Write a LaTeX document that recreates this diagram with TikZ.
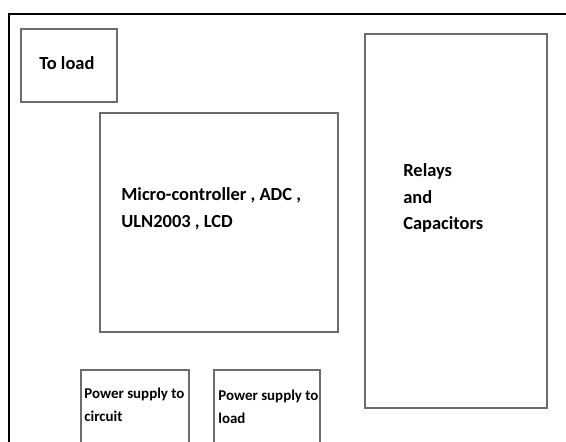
\documentclass[tikz,border=0pt]{standalone}
\usepackage{fontspec}
\setmainfont{Carlito}
\usetikzlibrary{positioning}

\begin{document}
\begin{tikzpicture}[x=0.02cm, y=-0.02cm,
        block/.style={rectangle, draw=gray!85!black, line width=0.8pt, inner sep=0pt},
        blocklabel/.style={font=\bfseries\fontsize{10.5}{15.3}\selectfont, align=left, inner sep=0pt, anchor=west},
        smalllabel/.style={font=\bfseries\fontsize{8.5}{13}\selectfont, align=left, inner sep=0pt, anchor=west}]

        \useasboundingbox (0,0) rectangle (566,442);
        \clip (0,0) rectangle (566,442);

        % outer frame
        \draw[line width=1.7pt] (9,500) -- (9,14) -- (600,14);

        \node[block, minimum width=1.92cm, minimum height=1.46cm] (load) at (69,65.5) {};
        \node[block, minimum width=4.76cm, minimum height=4.38cm] (mcu) at (219,222.5) {};
        \node[block, minimum width=3.64cm, minimum height=7.48cm] (relays) at (456,221) {};
        \node[block, minimum width=2.16cm, minimum height=2cm] (pscircuit) at (135,420) {};
        \node[block, minimum width=2.12cm, minimum height=2cm] (psload) at (267,420) {};

        \node[blocklabel] (loadtext) at (39,63) {To load};
        \node[blocklabel] (mcutext) at (121,208.5) {Micro-controller , ADC ,\\ULN2003 , LCD};
        \node[blocklabel] (relaystext) at (403,198) {Relays\\and\\Capacitors};
        \node[smalllabel] (pscircuittext) at (84,404.5) {Power supply to\\circuit};
        \node[smalllabel] (psloadtext) at (218,406.5) {Power supply to\\load};
\end{tikzpicture}
\end{document}
